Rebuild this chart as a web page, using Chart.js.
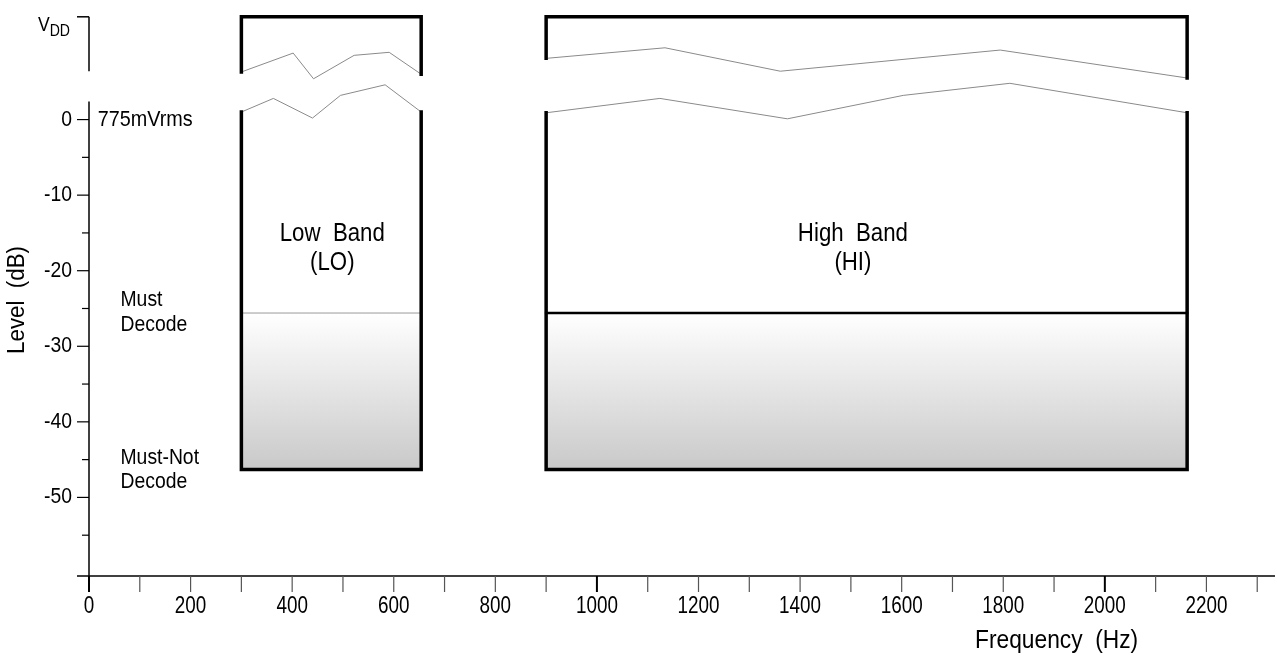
<!DOCTYPE html>
<html>
<head>
<meta charset="utf-8">
<script src="https://cdn.jsdelivr.net/npm/chart.js@4/dist/chart.umd.min.js"></script>
<style>
  html, body { margin: 0; padding: 0; background: #fff; }
  #wrap { width: 1277px; height: 657px; position: relative; }
</style>
</head>
<body>
<div id="wrap"><canvas id="myChart"></canvas></div>
<script>
// band edges (Hz) and levels (dB)
var loEdges = [300, 654];
var hiEdges = [900, 2162];
var vddDb = 13.6;
var floorDb = -46.3;
var decodeDb = -25.6;
// axis break on the level axis (dB)
var axisBreak = [2.4, 6.4];

// break lines, upper and lower, for each band
var loTopHz = [300, 402, 442, 522, 591, 654];
var loTopDb = [6.3, 8.8, 5.4, 8.5, 8.9, 6.0];
var loBotHz = [300, 363, 440, 495, 583, 654];
var loBotDb = [1.0, 2.8, 0.2, 3.2, 4.6, 1.0];
var hiTopHz = [900, 1134, 1361, 1794, 2162];
var hiTopDb = [8.1, 9.5, 6.4, 9.2, 5.5];
var hiBotHz = [900, 1124, 1375, 1603, 1813, 2162];
var hiBotDb = [0.9, 2.8, 0.1, 3.2, 4.8, 0.9];

// tick labels
var xLabels = [0, 200, 400, 600, 800, 1000, 1200, 1400, 1600, 1800, 2000, 2200];
var xMarks = [0, 100, 200, 300, 400, 500, 600, 700, 800, 900, 1000, 1100, 1200,
  1300, 1400, 1500, 1600, 1700, 1800, 1900, 2000, 2100, 2200, 2300];
var yLabels = [0, -10, -20, -30, -40, -50];
var yMinor = [-5, -15, -25, -35, -45, -55];

var family = "'Liberation Sans', Arial, sans-serif";
Chart.defaults.font.family = family;
Chart.defaults.color = '#000';

function pts(xs, ys) {
  return xs.map(function (v, i) { return { x: v, y: ys[i] }; });
}

function shade(context) {
  var chart = context.chart;
  if (!chart.chartArea) return '#ddd';
  var y = chart.scales.y;
  var g = chart.ctx.createLinearGradient(0, y.getPixelForValue(decodeDb), 0, y.getPixelForValue(floorDb));
  g.addColorStop(0, '#ffffff');
  g.addColorStop(1, '#c9c9c9');
  return g;
}

function band(edges, topHz, topDb, botHz, botDb, decodeColor, decodeWidth) {
  var l = edges[0], r = edges[1];
  var thin = { borderColor: '#8a8a8a', borderWidth: 1, fill: false, order: 1 };
  var thick = { borderColor: '#000', borderWidth: 3.5, fill: false, order: 0 };
  return [
    Object.assign({ data: pts([l, l, r, r], [topDb[0], vddDb, vddDb, topDb[topDb.length - 1]]) }, thick),
    Object.assign({ data: pts(topHz, topDb) }, thin),
    Object.assign({ data: pts(botHz, botDb) }, thin),
    { data: pts([l, r], [decodeDb, decodeDb]), borderColor: decodeColor, borderWidth: decodeWidth,
      fill: { value: floorDb }, backgroundColor: shade, order: 2 },
    Object.assign({ data: pts([l, l, r, r], [botDb[0], floorDb, floorDb, botDb[botDb.length - 1]]) }, thick)
  ];
}

var sketch = {
  id: 'sketch',
  afterDatasetsDraw: function (chart) {
    var ctx = chart.ctx, a = chart.chartArea, x = chart.scales.x, y = chart.scales.y;
    var x0 = x.getPixelForValue(0);
    function line(x1, y1, x2, y2) { ctx.beginPath(); ctx.moveTo(x1, y1); ctx.lineTo(x2, y2); ctx.stroke(); }
    // narrow text: the original uses a condensed sans
    function text(s, px, py, size, align, sx, rot) {
      ctx.save();
      ctx.translate(px, py);
      if (rot) ctx.rotate(rot);
      ctx.scale(sx || 0.88, 1);
      ctx.font = size + 'px ' + family;
      ctx.textAlign = align || 'center';
      ctx.fillText(s, 0, 0);
      ctx.restore();
    }
    ctx.save();
    ctx.strokeStyle = '#000';
    ctx.lineWidth = 1.5;
    // axes
    line(x0, y.getPixelForValue(axisBreak[0]), x0, a.bottom + 16);
    line(x0 - 12, a.bottom, a.right, a.bottom);
    // VDD bracket
    line(x0, y.getPixelForValue(vddDb), x0, y.getPixelForValue(axisBreak[1]));
    line(x0 - 12, y.getPixelForValue(vddDb), x0, y.getPixelForValue(vddDb));
    // ticks
    ctx.lineWidth = 1.2;
    yLabels.forEach(function (v) { var p = y.getPixelForValue(v); line(x0 - 12, p, x0, p); });
    yMinor.forEach(function (v) { var p = y.getPixelForValue(v); line(x0 - 7, p, x0, p); });
    xMarks.forEach(function (v) {
      var p = x.getPixelForValue(v);
      ctx.lineWidth = v % 1000 === 0 ? 2 : 1.2;
      ctx.strokeStyle = v % 1000 === 0 ? '#000' : '#555';
      line(p, a.bottom, p, a.bottom + 16);
    });
    // tick labels
    ctx.fillStyle = '#000';
    ctx.textBaseline = 'middle';
    xLabels.forEach(function (v) { text(String(v), x.getPixelForValue(v), a.bottom + 31, 23, 'center', 0.82); });
    yLabels.forEach(function (v) { text(String(v), x0 - 17, y.getPixelForValue(v), 22, 'right', 0.88); });
    // axis titles
    text('Level  (dB)', a.left - 71, (a.top + a.bottom) / 2 + 7, 23, 'center', 0.97, -Math.PI / 2);
    text('Frequency  (Hz)', x.getPixelForValue(1905), a.bottom + 65, 25, 'center', 0.91);
    // annotations
    text('Low  Band', x.getPixelForValue(479), y.getPixelForValue(-15.2), 25, 'center', 0.89);
    text('(LO)', x.getPixelForValue(479), y.getPixelForValue(-19.0), 25, 'center', 0.89);
    text('High  Band', x.getPixelForValue(1504), y.getPixelForValue(-15.2), 25, 'center', 0.89);
    text('(HI)', x.getPixelForValue(1504), y.getPixelForValue(-19.0), 25, 'center', 0.89);
    text('775mVrms', x.getPixelForValue(17), y.getPixelForValue(0), 22, 'left', 0.9);
    text('Must', x.getPixelForValue(62), y.getPixelForValue(-23.9), 22, 'left', 0.88);
    text('Decode', x.getPixelForValue(62), y.getPixelForValue(-27.2), 22, 'left', 0.88);
    text('Must-Not', x.getPixelForValue(62), y.getPixelForValue(-44.8), 22, 'left', 0.88);
    text('Decode', x.getPixelForValue(62), y.getPixelForValue(-48.0), 22, 'left', 0.88);
    // V with subscript DD
    ctx.textBaseline = 'alphabetic';
    var vy = y.getPixelForValue(vddDb);
    ctx.font = '16px ' + family;
    var dw = ctx.measureText('DD').width * 0.88;
    text('DD', x0 - 19, vy + 19, 16, 'right', 0.88);
    text('V', x0 - 19 - dw, vy + 14, 20, 'right', 0.88);
    ctx.restore();
  }
};

var datasets = band(loEdges, loTopHz, loTopDb, loBotHz, loBotDb, '#999', 1)
  .concat(band(hiEdges, hiTopHz, hiTopDb, hiBotHz, hiBotDb, '#000', 2.5));
datasets.forEach(function (d) {
  d.pointRadius = 0;
  d.tension = 0;
  d.borderJoinStyle = 'miter';
  d.borderCapStyle = 'square';
});

var ctx = document.getElementById('myChart');
var myChart = new Chart(ctx, {
  type: 'line',
  data: { datasets: datasets },
  plugins: [sketch],
  options: {
    responsive: true,
    maintainAspectRatio: false,
    animation: false,
    layout: { padding: { top: 10, right: 2, left: 0, bottom: 0 } },
    plugins: { legend: { display: false }, tooltip: { enabled: false } },
    scales: {
      x: {
        type: 'linear', min: 0, max: 2335,
        afterFit: function (s) { s.height = 81; s.paddingLeft = 0; s.paddingRight = 0; },
        ticks: { display: false },
        grid: { display: false },
        border: { display: false }
      },
      y: {
        type: 'linear', min: -60.4, max: 14.5,
        afterFit: function (s) { s.width = 89; s.paddingTop = 0; s.paddingBottom = 0; },
        ticks: { display: false },
        grid: { display: false },
        border: { display: false }
      }
    }
  }
});
</script>
</body>
</html>
